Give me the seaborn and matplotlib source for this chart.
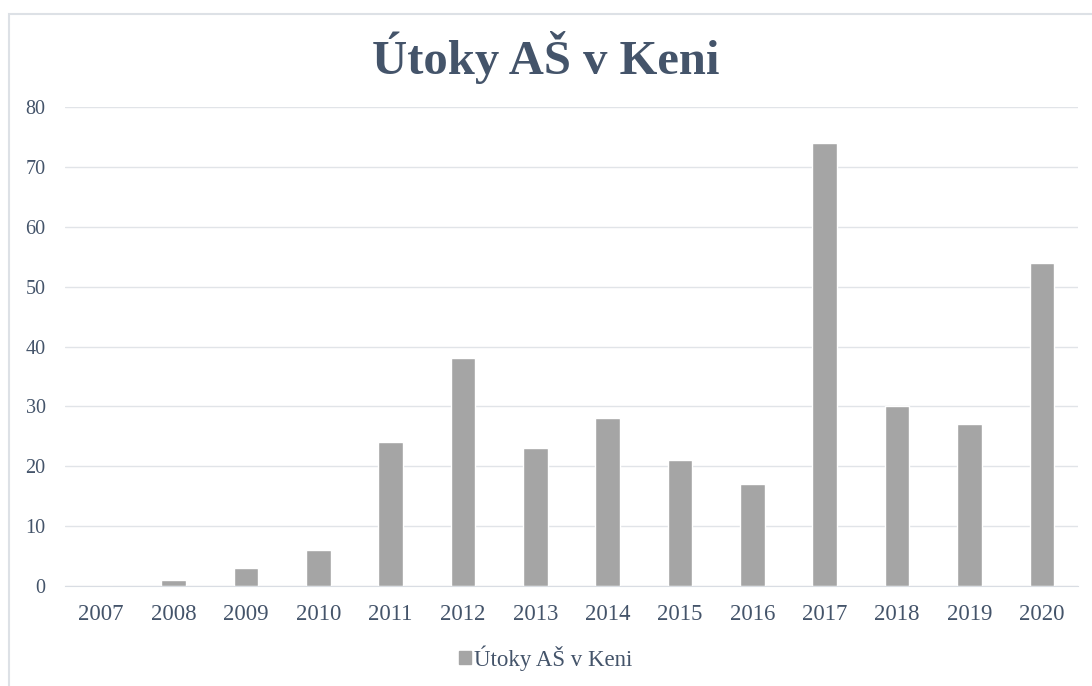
import matplotlib
matplotlib.use('Agg')
import matplotlib.pyplot as plt
import matplotlib.patches as mpatches
import pandas as pd
import seaborn as sns

# Chart data
years = ['2007', '2008', '2009', '2010', '2011', '2012', '2013',
         '2014', '2015', '2016', '2017', '2018', '2019', '2020']
attacks = [0, 1, 3, 6, 24, 38, 23, 28, 21, 17, 74, 30, 27, 54]
series_name = 'Útoky AŠ v Keni'

df = pd.DataFrame({'Rok': years, 'Útoky': attacks})

sns.set_style('white')
plt.rcParams['font.family'] = ['Liberation Serif', 'DejaVu Serif']

text_color = '#44546A'
bar_color = '#A5A5A5'
grid_color = '#E1E4E8'

fig = plt.figure(figsize=(10.92, 6.86), dpi=100)
ax = fig.add_axes([65 / 1092, 100 / 686, 1013 / 1092, 479 / 686])

sns.barplot(data=df, x='Rok', y='Útoky', color=bar_color, width=0.34,
            saturation=1, ax=ax)

ax.set_ylim(0, 80)
ax.set_yticks(range(0, 81, 10))
ax.set_xlim(-0.5, len(years) - 0.5)
ax.yaxis.grid(True, color=grid_color, linewidth=1)
ax.set_axisbelow(True)
for side in ['top', 'right', 'left']:
    ax.spines[side].set_visible(False)
ax.spines['bottom'].set_color('#D9DDE3')
ax.set_xlabel('')
ax.set_ylabel('')
ax.tick_params(axis='both', length=0, colors=text_color)
ax.tick_params(axis='x', pad=13, labelsize=16.5)
ax.tick_params(axis='y', pad=14, labelsize=14.5)

fig.text(0.5, 1 - 58 / 686, 'Útoky AŠ v Keni', ha='center', va='center',
         fontsize=35, fontweight='bold', color=text_color)

handle = mpatches.Patch(color=bar_color, label=series_name)
leg = fig.legend(handles=[handle], loc='center', bbox_to_anchor=(0.5, 1 - 658 / 686),
                 frameon=False, fontsize=16.5, handlelength=0.5, handleheight=0.5,
                 handletextpad=0.15)
for t in leg.get_texts():
    t.set_color(text_color)

# light frame around the chart area (cut off at right/bottom)
frame = mpatches.Rectangle((9 / 1092, -0.1), 1.2, 1 - 14 / 686 + 0.1,
                           transform=fig.transFigure, fill=False,
                           edgecolor='#DDE1E6', linewidth=1.5)
fig.patches.append(frame)

fig.savefig('out.png', dpi=100)
